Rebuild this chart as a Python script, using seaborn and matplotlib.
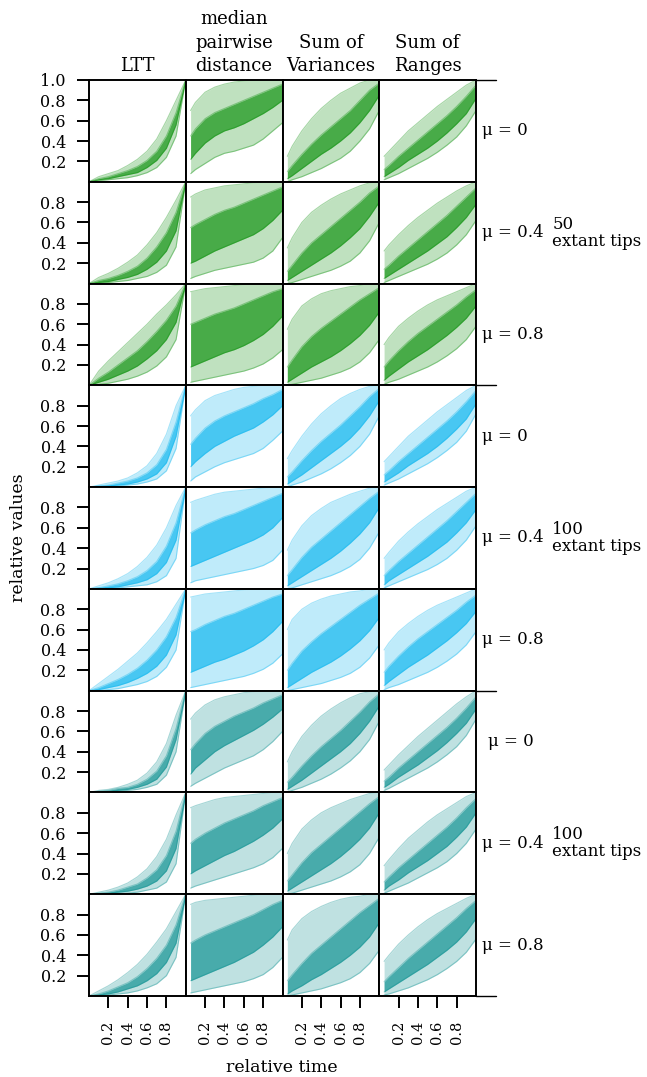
import matplotlib
matplotlib.use("Agg")
import matplotlib.pyplot as plt
from matplotlib.lines import Line2D
import seaborn as sns
import pandas as pd

# ---------------- data ----------------
# quantile envelopes of the trajectories: [5%, 25%, 75%, 95%]
t_ltt = [0.0, 0.1, 0.2, 0.3, 0.4, 0.5, 0.6, 0.7, 0.8, 0.9, 1.0]
t_stat = [0.05, 0.1, 0.2, 0.3, 0.4, 0.5, 0.6, 0.7, 0.8, 0.9, 1.0]

col_titles = ["LTT", "median\npairwise\ndistance", "Sum of\nVariances", "Sum of\nRanges"]
mu_labels = ["\u03bc = 0", "\u03bc = 0.4", "\u03bc = 0.8"]
group_labels = ["50\nextant tips", "100\nextant tips", "100\nextant tips"]
group_colors = ["#008B00", "#00B2EE", "#008B8B"]
y_ticks = [0.2, 0.4, 0.6, 0.8]
y_ticks_top = [0.2, 0.4, 0.6, 0.8, 1.0]
x_ticks = [0.2, 0.4, 0.6, 0.8]

# ---- 50 extant tips ----
tips50_ltt_mu0 = [[0, .01, .02, .03, .04, .06, .09, .14, .24, .45, 1],
                  [0, .02, .03, .05, .07, .09, .14, .21, .33, .56, 1],
                  [0, .03, .05, .08, .11, .15, .21, .30, .45, .68, 1],
                  [0, .05, .08, .11, .16, .22, .30, .42, .60, .80, 1]]
tips50_ltt_mu04 = [[0, .00, .01, .02, .03, .05, .07, .11, .18, .36, 1],
                   [0, .01, .02, .04, .06, .09, .14, .21, .32, .52, 1],
                   [0, .03, .05, .08, .12, .17, .25, .36, .50, .70, 1],
                   [0, .06, .10, .15, .21, .28, .38, .50, .65, .82, 1]]
tips50_ltt_mu08 = [[0, .01, .02, .04, .06, .09, .13, .19, .28, .45, 1],
                   [0, .03, .06, .10, .14, .19, .26, .34, .45, .62, 1],
                   [0, .07, .13, .20, .27, .34, .43, .53, .64, .78, 1],
                   [0, .14, .24, .33, .42, .51, .60, .70, .79, .89, 1]]
tips50_mpd_mu0 = [[.08, .12, .18, .24, .28, .30, .33, .36, .42, .50, .58],
                  [.22, .28, .38, .45, .50, .53, .57, .62, .67, .73, .80],
                  [.45, .52, .62, .68, .72, .76, .80, .84, .88, .92, .96],
                  [.70, .78, .88, .93, .96, .98, .99, 1.0, 1.0, 1.0, 1.0]]
tips50_mpd_mu04 = [[.05, .07, .10, .13, .15, .17, .19, .21, .25, .32, .45],
                   [.20, .22, .27, .32, .36, .40, .44, .48, .54, .62, .72],
                   [.55, .58, .63, .68, .72, .75, .79, .83, .87, .91, .95],
                   [.85, .88, .92, .94, .96, .97, .98, .99, 1.0, 1.0, 1.0]]
tips50_mpd_mu08 = [[.03, .04, .06, .08, .10, .12, .14, .17, .21, .27, .35],
                   [.18, .20, .24, .28, .32, .35, .39, .44, .50, .58, .68],
                   [.60, .62, .66, .70, .73, .76, .80, .84, .88, .92, .95],
                   [.92, .93, .95, .96, .97, .98, .99, 1.0, 1.0, 1.0, 1.0]]
tips50_sov_mu0 = [[.00, .02, .05, .09, .13, .18, .23, .30, .40, .52, .70],
                  [.03, .06, .13, .20, .27, .33, .40, .48, .58, .70, .85],
                  [.10, .16, .27, .37, .46, .54, .62, .70, .80, .90, .97],
                  [.25, .35, .50, .62, .72, .80, .87, .92, .97, 1.0, 1.0]]
tips50_sov_mu04 = [[.00, .01, .04, .07, .10, .13, .17, .22, .30, .42, .60],
                   [.03, .06, .12, .18, .24, .30, .37, .45, .54, .66, .80],
                   [.12, .18, .30, .40, .48, .56, .64, .72, .80, .89, .96],
                   [.35, .45, .60, .70, .77, .83, .88, .92, .96, .99, 1.0]]
tips50_sov_mu08 = [[.00, .01, .03, .05, .07, .10, .13, .17, .23, .32, .45],
                   [.03, .06, .12, .18, .23, .28, .34, .41, .49, .59, .72],
                   [.18, .25, .38, .48, .56, .63, .70, .77, .84, .90, .96],
                   [.55, .65, .78, .85, .90, .93, .95, .97, .98, 1.0, 1.0]]
tips50_sor_mu0 = [[.02, .04, .08, .13, .18, .23, .29, .36, .44, .55, .70],
                  [.05, .08, .14, .21, .27, .33, .40, .48, .57, .67, .82],
                  [.12, .16, .25, .33, .41, .49, .57, .65, .74, .84, .95],
                  [.25, .30, .40, .50, .58, .66, .74, .81, .88, .95, 1.0]]
tips50_sor_mu04 = [[.01, .03, .07, .11, .15, .19, .24, .30, .38, .48, .62],
                   [.05, .08, .14, .20, .26, .32, .39, .46, .55, .65, .78],
                   [.14, .18, .27, .35, .43, .51, .59, .67, .76, .85, .94],
                   [.32, .38, .48, .57, .65, .72, .79, .85, .91, .96, 1.0]]
tips50_sor_mu08 = [[.01, .03, .06, .10, .14, .18, .23, .29, .36, .45, .58],
                   [.05, .09, .16, .23, .29, .35, .42, .49, .57, .66, .78],
                   [.18, .24, .34, .43, .51, .58, .65, .72, .79, .87, .94],
                   [.40, .47, .58, .66, .73, .79, .84, .88, .92, .96, 1.0]]

# ---- 100 extant tips (blue) ----
tips100a_ltt_mu0 = [[0, .00, .01, .01, .02, .03, .05, .08, .16, .38, 1],
                    [0, .01, .01, .02, .03, .05, .08, .13, .24, .50, 1],
                    [0, .01, .02, .04, .06, .09, .14, .22, .37, .64, 1],
                    [0, .02, .04, .06, .09, .14, .21, .33, .52, .80, 1]]
tips100a_ltt_mu04 = [[0, .00, .01, .01, .02, .03, .04, .07, .13, .30, 1],
                     [0, .01, .01, .02, .04, .06, .09, .15, .26, .48, 1],
                     [0, .01, .03, .05, .08, .12, .18, .27, .42, .65, 1],
                     [0, .03, .06, .10, .15, .22, .31, .43, .60, .82, 1]]
tips100a_ltt_mu08 = [[0, .00, .01, .02, .04, .06, .09, .14, .23, .40, 1],
                     [0, .01, .03, .05, .08, .12, .17, .24, .35, .55, 1],
                     [0, .03, .07, .11, .16, .22, .30, .40, .53, .72, 1],
                     [0, .07, .14, .21, .29, .37, .47, .58, .70, .85, 1]]
tips100a_mpd_mu0 = [[.06, .10, .15, .20, .24, .27, .30, .33, .38, .46, .55],
                    [.20, .25, .33, .40, .45, .50, .54, .58, .64, .71, .80],
                    [.42, .48, .58, .65, .70, .74, .78, .82, .87, .91, .96],
                    [.70, .76, .85, .90, .93, .96, .98, .99, 1.0, 1.0, 1.0]]
tips100a_mpd_mu04 = [[.06, .08, .10, .12, .14, .16, .18, .20, .23, .28, .38],
                     [.22, .24, .28, .32, .36, .40, .44, .48, .53, .60, .70],
                     [.55, .58, .63, .67, .71, .74, .78, .82, .86, .90, .94],
                     [.85, .87, .90, .93, .95, .96, .97, .98, .99, 1.0, 1.0]]
tips100a_mpd_mu08 = [[.03, .04, .06, .08, .10, .12, .14, .17, .21, .27, .36],
                     [.18, .20, .24, .28, .31, .35, .39, .44, .50, .58, .68],
                     [.58, .60, .65, .69, .73, .76, .80, .84, .88, .92, .95],
                     [.92, .93, .95, .96, .97, .98, .99, 1.0, 1.0, 1.0, 1.0]]
tips100a_sov_mu0 = [[.00, .02, .05, .09, .13, .18, .24, .31, .40, .52, .70],
                    [.03, .06, .12, .19, .26, .33, .40, .48, .58, .70, .85],
                    [.10, .15, .26, .36, .45, .53, .61, .70, .79, .89, .97],
                    [.28, .36, .50, .62, .72, .80, .87, .92, .96, .99, 1.0]]
tips100a_sov_mu04 = [[.00, .01, .04, .07, .10, .13, .17, .22, .29, .40, .56],
                     [.03, .06, .12, .18, .24, .30, .37, .45, .54, .65, .80],
                     [.13, .19, .31, .41, .49, .57, .65, .73, .81, .89, .96],
                     [.38, .48, .62, .72, .79, .85, .89, .93, .96, .99, 1.0]]
tips100a_sov_mu08 = [[.00, .01, .03, .05, .07, .10, .13, .17, .23, .32, .45],
                     [.03, .06, .12, .18, .23, .28, .34, .41, .49, .59, .72],
                     [.20, .27, .39, .48, .56, .63, .70, .77, .84, .90, .96],
                     [.60, .70, .80, .86, .90, .93, .95, .97, .98, 1.0, 1.0]]
tips100a_sor_mu0 = [[.02, .04, .08, .13, .18, .23, .29, .36, .44, .55, .72],
                    [.05, .08, .14, .21, .27, .33, .40, .48, .57, .67, .82],
                    [.12, .16, .25, .33, .41, .49, .57, .65, .74, .84, .95],
                    [.25, .30, .40, .50, .58, .66, .74, .81, .88, .95, 1.0]]
tips100a_sor_mu04 = [[.01, .03, .07, .11, .15, .19, .24, .30, .38, .48, .62],
                     [.04, .08, .14, .20, .26, .32, .39, .46, .55, .65, .78],
                     [.13, .18, .27, .35, .43, .51, .59, .67, .76, .85, .94],
                     [.30, .36, .47, .56, .64, .71, .78, .84, .90, .96, 1.0]]
tips100a_sor_mu08 = [[.01, .03, .06, .10, .14, .18, .23, .29, .36, .45, .58],
                     [.05, .09, .16, .23, .29, .35, .42, .49, .57, .66, .78],
                     [.18, .24, .34, .43, .51, .58, .65, .72, .79, .87, .94],
                     [.40, .47, .58, .66, .73, .79, .84, .88, .92, .96, 1.0]]

# ---- 100 extant tips (teal) ----
tips100b_ltt_mu0 = [[0, .00, .01, .01, .02, .03, .05, .08, .17, .40, 1],
                    [0, .01, .01, .02, .03, .05, .08, .13, .25, .52, 1],
                    [0, .01, .02, .04, .05, .08, .13, .21, .36, .63, 1],
                    [0, .02, .03, .05, .08, .12, .19, .30, .48, .76, 1]]
tips100b_ltt_mu04 = [[0, .00, .00, .01, .01, .02, .04, .06, .12, .30, 1],
                     [0, .00, .01, .02, .03, .05, .08, .13, .23, .45, 1],
                     [0, .01, .02, .04, .07, .10, .16, .24, .38, .62, 1],
                     [0, .02, .04, .07, .11, .17, .25, .37, .54, .78, 1]]
tips100b_ltt_mu08 = [[0, .00, .01, .02, .03, .05, .08, .12, .20, .38, 1],
                     [0, .01, .02, .04, .07, .10, .15, .22, .33, .52, 1],
                     [0, .02, .05, .09, .13, .19, .27, .37, .50, .70, 1],
                     [0, .05, .10, .16, .23, .31, .41, .53, .66, .83, 1]]
tips100b_mpd_mu0 = [[.06, .09, .14, .19, .24, .28, .32, .36, .42, .50, .60],
                    [.18, .24, .32, .40, .46, .51, .56, .61, .67, .74, .82],
                    [.42, .48, .58, .65, .70, .75, .79, .83, .88, .92, .96],
                    [.72, .78, .86, .91, .94, .96, .98, .99, 1.0, 1.0, 1.0]]
tips100b_mpd_mu04 = [[.06, .08, .11, .14, .17, .20, .23, .26, .30, .36, .45],
                     [.20, .23, .28, .33, .38, .42, .47, .52, .58, .65, .74],
                     [.50, .54, .60, .65, .70, .74, .78, .82, .87, .91, .95],
                     [.85, .87, .90, .93, .95, .96, .97, .98, .99, 1.0, 1.0]]
tips100b_mpd_mu08 = [[.03, .04, .06, .08, .10, .12, .14, .17, .21, .28, .38],
                     [.15, .17, .21, .25, .29, .33, .38, .43, .50, .58, .68],
                     [.52, .55, .60, .64, .68, .72, .76, .80, .85, .90, .94],
                     [.90, .92, .94, .95, .96, .97, .98, .99, 1.0, 1.0, 1.0]]
tips100b_sov_mu0 = [[.00, .02, .05, .09, .13, .18, .24, .31, .40, .52, .70],
                    [.03, .06, .12, .19, .26, .33, .40, .48, .58, .70, .85],
                    [.10, .15, .26, .36, .45, .53, .61, .70, .79, .89, .97],
                    [.30, .40, .55, .66, .75, .82, .88, .93, .97, .99, 1.0]]
tips100b_sov_mu04 = [[.00, .01, .04, .07, .10, .13, .17, .22, .29, .40, .56],
                     [.03, .06, .12, .18, .24, .30, .37, .45, .54, .65, .80],
                     [.13, .19, .31, .41, .49, .57, .65, .73, .81, .89, .96],
                     [.40, .50, .64, .73, .80, .85, .89, .93, .96, .99, 1.0]]
tips100b_sov_mu08 = [[.00, .01, .03, .05, .07, .10, .13, .17, .23, .32, .45],
                     [.02, .05, .10, .16, .21, .27, .33, .40, .48, .58, .72],
                     [.15, .21, .32, .42, .50, .58, .66, .74, .82, .89, .96],
                     [.55, .65, .76, .83, .88, .92, .95, .97, .98, 1.0, 1.0]]
tips100b_sor_mu0 = [[.02, .04, .09, .14, .19, .24, .30, .37, .45, .56, .72],
                    [.05, .08, .15, .21, .27, .34, .41, .49, .58, .68, .82],
                    [.11, .15, .24, .32, .40, .48, .56, .64, .73, .83, .94],
                    [.22, .27, .37, .46, .55, .63, .71, .79, .87, .94, 1.0]]
tips100b_sor_mu04 = [[.01, .03, .07, .11, .16, .21, .26, .32, .40, .50, .64],
                     [.04, .08, .14, .21, .27, .33, .40, .47, .56, .66, .80],
                     [.12, .17, .26, .34, .42, .50, .58, .66, .75, .85, .94],
                     [.28, .34, .45, .55, .63, .71, .78, .84, .90, .96, 1.0]]
tips100b_sor_mu08 = [[.01, .02, .05, .08, .12, .16, .21, .27, .34, .43, .56],
                     [.04, .07, .13, .19, .25, .31, .38, .45, .53, .63, .76],
                     [.14, .19, .28, .37, .45, .53, .61, .69, .77, .86, .94],
                     [.34, .40, .51, .60, .68, .75, .81, .86, .91, .96, 1.0]]

panel_rows = [
    [tips50_ltt_mu0, tips50_mpd_mu0, tips50_sov_mu0, tips50_sor_mu0],
    [tips50_ltt_mu04, tips50_mpd_mu04, tips50_sov_mu04, tips50_sor_mu04],
    [tips50_ltt_mu08, tips50_mpd_mu08, tips50_sov_mu08, tips50_sor_mu08],
    [tips100a_ltt_mu0, tips100a_mpd_mu0, tips100a_sov_mu0, tips100a_sor_mu0],
    [tips100a_ltt_mu04, tips100a_mpd_mu04, tips100a_sov_mu04, tips100a_sor_mu04],
    [tips100a_ltt_mu08, tips100a_mpd_mu08, tips100a_sov_mu08, tips100a_sor_mu08],
    [tips100b_ltt_mu0, tips100b_mpd_mu0, tips100b_sov_mu0, tips100b_sor_mu0],
    [tips100b_ltt_mu04, tips100b_mpd_mu04, tips100b_sov_mu04, tips100b_sor_mu04],
    [tips100b_ltt_mu08, tips100b_mpd_mu08, tips100b_sov_mu08, tips100b_sor_mu08],
]

# ---------------- style ----------------
sns.set_style("ticks")
plt.rcParams["font.family"] = ["DejaVu Serif", "DejaVu Sans"]
plt.rcParams["axes.linewidth"] = 1.4
plt.rcParams["axes.edgecolor"] = "black"
plt.rcParams["text.color"] = "black"
plt.rcParams["axes.labelcolor"] = "black"
plt.rcParams["xtick.color"] = "black"
plt.rcParams["ytick.color"] = "black"

W, H = 647, 1077
fig = plt.figure(figsize=(W / 100, H / 100), dpi=100)
L, R, T, B = 89, 476, 80, 996
gs = fig.add_gridspec(9, 4, left=L / W, right=R / W, top=1 - T / H, bottom=1 - B / H,
                      hspace=0, wspace=0)

quant_names = ["q05", "q25", "q75", "q95"]

for r in range(9):
    color = group_colors[r // 3]
    for c in range(4):
        ax = fig.add_subplot(gs[r, c])
        q = panel_rows[r][c]
        t = t_ltt if c == 0 else t_stat
        ax.fill_between(t, q[0], q[3], color=color, alpha=0.25, lw=0)
        ax.fill_between(t, q[1], q[2], color=color, alpha=0.62, lw=0)
        df = pd.DataFrame({
            "t": t * 4,
            "v": q[0] + q[1] + q[2] + q[3],
            "q": [n for n in quant_names for _ in t],
        })
        sns.lineplot(data=df, x="t", y="v", units="q", estimator=None,
                     color=color, alpha=0.35, lw=0.8, ax=ax)
        ax.set_xlim(0, 1)
        ax.set_ylim(0, 1)
        ax.set_xlabel("")
        ax.set_ylabel("")
        for s in ax.spines.values():
            s.set_visible(True)
            s.set_color("black")
            s.set_linewidth(1.4)
        if c == 0:
            ticks = y_ticks_top if r == 0 else y_ticks
            ax.set_yticks(ticks)
            ax.set_yticklabels([f"{v:.1f}" for v in ticks])
            ax.tick_params(axis="y", left=True, length=8.6, width=1.4, pad=8,
                           labelsize=11.5, direction="out", colors="black")
        else:
            ax.set_yticks([])
        if r == 8:
            ax.set_xticks(x_ticks)
            ax.set_xticklabels([f"{v:.1f}" for v in x_ticks], rotation=90)
            ax.tick_params(axis="x", bottom=True, length=8.6, width=1.4, pad=9,
                           labelsize=10.5, direction="out", colors="black")
        else:
            ax.set_xticks([])
        if r == 0:
            ax.text(0.5, 1.0 + 5 / 101.8, col_titles[c], transform=ax.transAxes,
                    ha="center", va="bottom", fontsize=13, linespacing=1.38)
        if c == 3:
            xoff = 1.125 if r == 6 else 1.06
            ax.text(xoff, 0.5, mu_labels[r % 3], transform=ax.transAxes,
                    ha="left", va="center", fontsize=12)
            if r % 3 == 1:
                ax.text(1.79, 0.5, group_labels[r // 3], transform=ax.transAxes,
                        ha="left", va="center", fontsize=12, linespacing=1.0)

# horizontal separators extending to the right of the grid
row_h = (B - T) / 9
for yy in [T, T + 3 * row_h, T + 6 * row_h, B]:
    fig.add_artist(Line2D([R / W, 496 / W], [1 - yy / H, 1 - yy / H],
                          transform=fig.transFigure, color="black", lw=1.0))

fig.text(282 / W, 1 - 1068 / H, "relative time", ha="center", va="center", fontsize=12.5)
fig.text(19 / W, 1 - 538 / H, "relative values", ha="center", va="center",
         rotation=90, fontsize=12.5)

fig.savefig("out.png", dpi=100)
